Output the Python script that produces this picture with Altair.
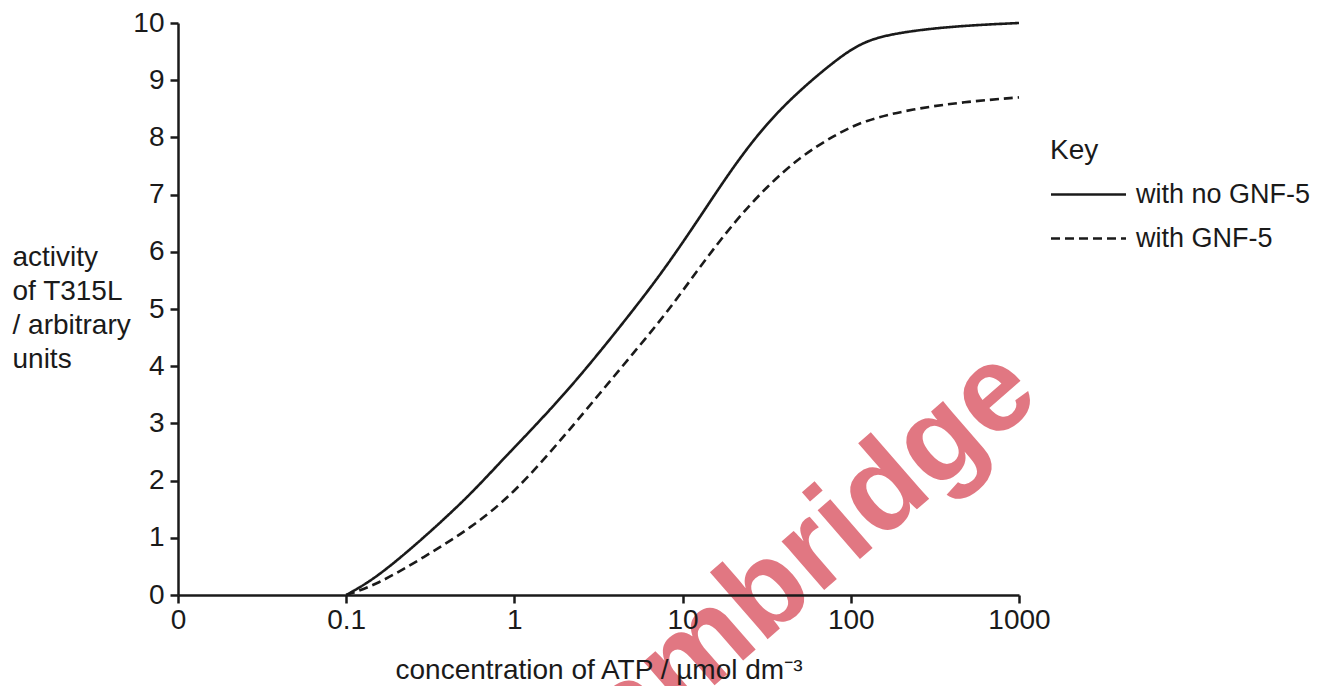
import altair as alt
import pandas as pd

# ---- data ----
series_names = ["with no GNF-5", "with GNF-5"]

solid_conc = [0.1, 0.15, 0.29, 0.55, 0.82, 2.05, 5.1, 8.0, 12.7, 20, 31.6, 50, 79, 110, 160, 372, 1000]
solid_act = [0, 0.29, 1.0, 1.76, 2.32, 3.53, 4.98, 5.74, 6.61, 7.49, 8.25, 8.83, 9.32, 9.62, 9.80, 9.94, 10.0]

dash_conc = [0.1, 0.15, 0.29, 0.55, 1.0, 2.05, 3.23, 5.1, 8.0, 12.7, 20, 31.6, 50, 79, 120, 235, 470, 1000]
dash_act = [0, 0.17, 0.66, 1.17, 1.78, 2.83, 3.53, 4.23, 4.92, 5.74, 6.50, 7.14, 7.66, 8.03, 8.30, 8.50, 8.62, 8.70]

x_ticks = [0.01, 0.1, 1, 10, 100, 1000]
y_ticks = [0, 1, 2, 3, 4, 5, 6, 7, 8, 9, 10]

y_title = ["activity", "of T315L", "/ arbitrary", "units"]
x_title = "concentration of ATP / \u00b5mol dm\u207b\u00b3"
legend_title = "Key"
watermark = ["Cambridge"]

rows = []
for c, a in zip(solid_conc, solid_act):
    rows.append({"conc": c, "act": a, "series": series_names[0]})
for c, a in zip(dash_conc, dash_act):
    rows.append({"conc": c, "act": a, "series": series_names[1]})
df = pd.DataFrame(rows)

FONT = "Liberation Sans"
INK = "#1a1a1a"
FS = 28

lines = alt.Chart(df).mark_line(
    color=INK, strokeWidth=2.6, interpolate="basis"
).encode(
    x=alt.X(
        "conc:Q",
        scale=alt.Scale(type="log", domain=[0.01, 1000], nice=False),
        axis=alt.Axis(
            values=x_ticks,
            labelExpr="datum.value < 0.05 ? '0' : format(datum.value, '~g')",
            title=x_title,
            titlePadding=22,
            labelPadding=3,
            labelFlush=False,
            zindex=1,
        ),
    ),
    y=alt.Y(
        "act:Q",
        scale=alt.Scale(domain=[0, 10], nice=False),
        axis=alt.Axis(
            values=y_ticks,
            title=y_title,
            titleAngle=0,
            titleAlign="left",
            titleBaseline="top",
            titleX=-166,
            titleY=220,
            titleLineHeight=34,
            labelPadding=6,
            zindex=1,
        ),
    ),
    strokeDash=alt.StrokeDash(
        "series:N",
        scale=alt.Scale(domain=series_names, range=[[1, 0], [9, 5]]),
        legend=alt.Legend(
            title=legend_title,
            orient="none",
            legendX=872,
            legendY=114,
            padding=0,
            symbolType="M-1.667,0H8.333",
            symbolSize=225,
            symbolStrokeWidth=2.6,
            symbolStrokeColor=INK,
            labelOffset=59,
            rowPadding=16,
            titlePadding=16,
            labelFontSize=27,
            titleFontSize=FS,
            labelFont=FONT,
            titleFont=FONT,
            labelColor=INK,
            titleColor=INK,
            titleFontWeight="normal",
            labelLimit=400,
        ),
    ),
)

wm = alt.Chart(pd.DataFrame({"t": watermark})).mark_text(
    font=FONT,
    fontWeight="bold",
    fontSize=122,
    angle=319,
    align="center",
    baseline="middle",
    color="#da5663",
    opacity=0.8,
).encode(
    text="t:N",
    x=alt.value(600),
    y=alt.value(558),
)

chart = alt.layer(lines, wm).properties(
    width=841,
    height=572,
    autosize=alt.AutoSizeParams(type="none"),
    padding={"left": 170, "top": 15, "right": 293, "bottom": 91},
    background="white",
).configure_view(
    stroke=None
).configure_axis(
    grid=False,
    domainColor=INK,
    domainWidth=2.5,
    tickColor=INK,
    tickWidth=2.5,
    tickSize=8,
    labelFont=FONT,
    labelFontSize=FS,
    labelColor=INK,
    titleFont=FONT,
    titleFontSize=FS,
    titleFontWeight="normal",
    titleColor=INK,
)

chart.save("out.html", embed_options={"renderer": "svg", "actions": False})
